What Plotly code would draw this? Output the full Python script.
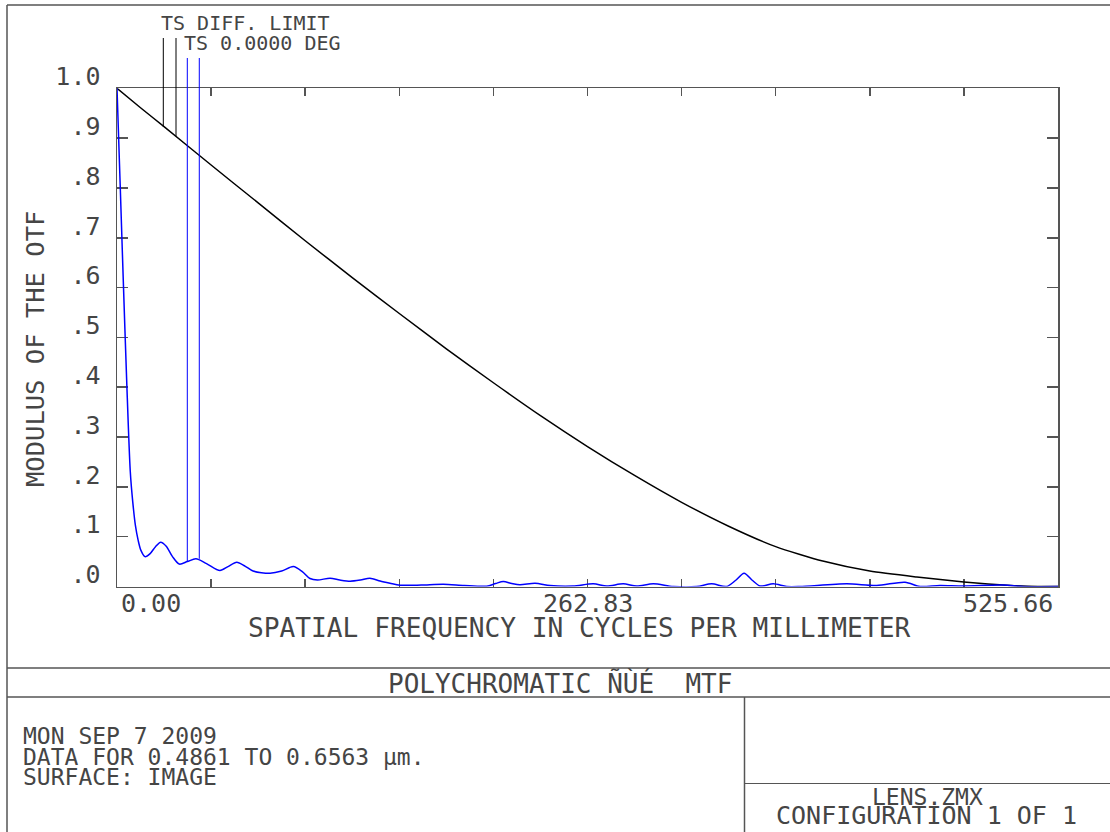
import plotly.graph_objects as go

# ---------------- data ----------------
diff_freq = [0, 13.14, 26.28, 52.57, 78.85, 105.13, 131.42, 157.70, 183.98, 210.26,
             236.55, 262.83, 289.11, 315.40, 341.68, 367.96, 394.25, 420.53, 446.81,
             473.09, 499.38, 514.4, 525.66]
diff_mtf = [1.0, 0.961, 0.923, 0.846, 0.770, 0.694, 0.620, 0.548, 0.477, 0.409,
            0.343, 0.281, 0.223, 0.169, 0.121, 0.080, 0.051, 0.031, 0.019,
            0.009, 0.002, 0.0, 0.0]

field_freq = [0, 1.7, 3.5, 5.4, 7.4, 8.8, 10.3, 11.8, 13.3, 15.6, 18.5, 21.5, 24.4, 27.5,
              31.0, 34.8, 39.3, 44.1, 50.0, 57.5, 62.0, 66.9, 71.5, 76.0, 85.5, 92.0,
              98.5, 103.5, 107.8, 112.0, 119.0, 124.5, 130.2, 136.0, 141.3, 147.0,
              152.5, 158.1, 170.0, 182.3, 194.0, 206.5, 211.5, 215.8, 220.5, 225.1,
              233.5, 241.9, 254.7, 266.1, 273.6, 282.8, 290.3, 299.6, 310.8, 323.8,
              332.2, 340.6, 345.5, 350.3, 355.0, 359.2, 366.6, 374.1, 381.5, 407.6,
              424.4, 440.2, 448.6, 459.7, 472.6, 494.9, 506.1, 525.66]
field_mtf = [1.0, 0.815, 0.615, 0.414, 0.232, 0.170, 0.122, 0.093, 0.073, 0.060, 0.066,
             0.080, 0.089, 0.081, 0.060, 0.045, 0.050, 0.0556, 0.046, 0.032, 0.040,
             0.0488, 0.041, 0.031, 0.0267, 0.031, 0.040, 0.030, 0.016, 0.013, 0.0167,
             0.013, 0.0106, 0.013, 0.0167, 0.011, 0.0066, 0.0026, 0.003, 0.0046,
             0.002, 0.0006, 0.006, 0.010, 0.006, 0.0034, 0.0066, 0.002, 0.001,
             0.0054, 0.001, 0.0054, 0.001, 0.0054, 0.0, 0.0, 0.0054, 0.0, 0.012,
             0.0267, 0.012, 0.001, 0.0054, 0.0, 0.0, 0.0054, 0.002, 0.0086, 0.0,
             0.002, 0.001, 0.003, 0.0, 0.0]

# legend marker lines (frequency where they sit, curve value where they end)
diff_marker_freq = [25.87, 32.96]
diff_marker_end = [0.9223, 0.9036]
field_marker_freq = [39.27, 45.97]
field_marker_end = [0.0502, 0.0556]

x_tick_vals = [i * 52.566 for i in range(11)]
x_label_vals = [0.0, 262.83, 525.66]
x_label_text = ["0.00", "262.83", "525.66"]
y_tick_vals = [i / 10 for i in range(11)]
y_tick_text = [".0", ".1", ".2", ".3", ".4", ".5", ".6", ".7", ".8", ".9", "1.0"]

# ---------------- layout geometry ----------------
W, H = 1110, 832
PX0, PX1 = 117, 1058      # plot left/right pixels
PY0, PY1 = 586.5, 88.3    # pixel rows of y=0 and y=1
xdom = [PX0 / W, PX1 / W]
ydom = [(H - PY0) / H, (H - PY1) / H]


def py(p):  # pixel row -> paper y
    return (H - p) / H


def px(p):  # pixel col -> paper x
    return p / W


def val2paper(v):
    return ydom[0] + v * (ydom[1] - ydom[0])


FONT = "DejaVu Sans Mono"
TXT = "#454545"
FRAME = "#555555"

fig = go.Figure()
fig.add_trace(go.Scatter(x=diff_freq, y=diff_mtf, mode="lines",
                         line=dict(color="black", width=1.5, shape="spline", smoothing=0.6),
                         hoverinfo="skip", showlegend=False))
fig.add_trace(go.Scatter(x=field_freq, y=field_mtf, mode="lines",
                         line=dict(color="#0000ff", width=1.5, shape="spline", smoothing=0.8),
                         hoverinfo="skip", showlegend=False))

shapes = []
# legend marker lines
for f, e in zip(diff_marker_freq, diff_marker_end):
    shapes.append(dict(type="line", xref="x", yref="paper", x0=f, x1=f,
                       y0=py(38), y1=val2paper(e), line=dict(color="black", width=1)))
for f, e in zip(field_marker_freq, field_marker_end):
    shapes.append(dict(type="line", xref="x", yref="paper", x0=f, x1=f,
                       y0=py(58), y1=val2paper(e), line=dict(color="#0000ff", width=1)))


# page frame / title block
def hline(y, xa, xb, w=1.5):
    return dict(type="line", xref="paper", yref="paper", x0=px(xa), x1=px(xb),
                y0=py(y), y1=py(y), line=dict(color=FRAME, width=w))


def vline(x, ya, yb, w=1.5):
    return dict(type="line", xref="paper", yref="paper", x0=px(x), x1=px(x),
                y0=py(ya), y1=py(yb), line=dict(color=FRAME, width=w))


shapes += [
    hline(5, 7, 1110),
    vline(7, 5, 832),
    hline(668, 7, 1110),
    hline(697, 7, 1110),
    vline(744.5, 697, 832),
    hline(783.5, 744.5, 1110, 1.2),
]

ann = []


def text(t, x, y, size, xanchor="left", angle=0, yanchor="middle"):
    ann.append(dict(text=t, x=px(x), y=py(y), xref="paper", yref="paper",
                    xanchor=xanchor, yanchor=yanchor, showarrow=False,
                    textangle=angle, font=dict(family=FONT, size=size, color=TXT)))


text("TS DIFF. LIMIT", 159, 23, 20)
text("TS 0.0000 DEG", 182, 43, 20)
text("MODULUS OF THE OTF", 35, 349, 25.5, xanchor="center", angle=-90)
text("SPATIAL FREQUENCY IN CYCLES PER MILLIMETER", 579, 628, 26.2, xanchor="center")
text("POLYCHROMATIC ÑÙÉ\u00a0\u00a0MTF", 560, 683, 26, xanchor="center")
text("MON SEP 7 2009", 21, 736, 23)
text("DATA FOR 0.4861 TO 0.6563 µm.", 21, 756.5, 23)
text("SURFACE: IMAGE", 21, 777, 23)
text("LENS.ZMX", 927.5, 797, 23, xanchor="center")
text("CONFIGURATION 1 OF 1", 926.5, 832, 25, xanchor="center", yanchor="bottom")

# x-axis tick labels (through the data axis)
for v, t, anc, sh in zip(x_label_vals, x_label_text, ["left", "center", "right"], [2, 0, -3]):
    ann.append(dict(text=t, x=v, y=py(603), xref="x", yref="paper", xanchor=anc,
                    yanchor="middle", xshift=sh, showarrow=False,
                    font=dict(family=FONT, size=25, color=TXT)))

fig.update_layout(
    width=W, height=H, autosize=False,
    margin=dict(l=0, r=0, t=0, b=0, pad=0, autoexpand=False),
    paper_bgcolor="white", plot_bgcolor="white",
    showlegend=False,
    shapes=shapes,
    annotations=ann,
    xaxis=dict(domain=xdom, range=[0, 525.66], showgrid=False, zeroline=False,
               showline=True, linecolor=FRAME, linewidth=1.5, mirror="ticks",
               ticks="inside", ticklen=8, tickcolor=FRAME, tickwidth=1.5,
               tickvals=x_tick_vals, showticklabels=False, layer="below traces",
               fixedrange=True, automargin=False),
    yaxis=dict(domain=ydom, range=[0, 1], showgrid=False, zeroline=False,
               showline=True, linecolor=FRAME, linewidth=1.5, mirror="ticks",
               ticks="inside", ticklen=11, tickcolor=FRAME, tickwidth=1.5,
               tickvals=y_tick_vals, ticktext=y_tick_text,
               tickfont=dict(family=FONT, size=25, color=TXT),
               ticklabelstandoff=10, ticklabelshift=-12, layer="below traces",
               fixedrange=True, automargin=False),
)

fig.write_html(
    "out.html",
    config={"displayModeBar": False, "staticPlot": True},
    post_script=(
        "document.body.style.margin='0';"
        "document.body.style.padding='0';"
        "document.documentElement.style.overflow='hidden';"
        "document.body.style.overflow='hidden';"
    ),
)
